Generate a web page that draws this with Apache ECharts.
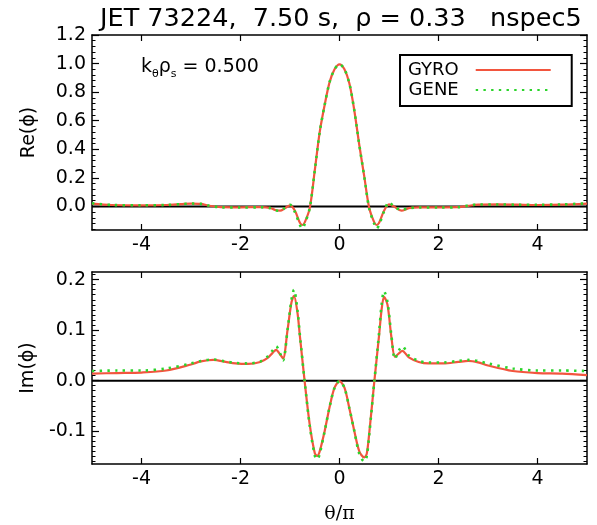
<!DOCTYPE html>
<html>
<head>
<meta charset="utf-8">
<script src="https://cdn.jsdelivr.net/npm/echarts@6/dist/echarts.min.js"></script>
<style>
html, body { margin: 0; padding: 0; background: #fff; }
#main { width: 597px; height: 525px; }
</style>
</head>
<body>
<div id="main"></div>
<script>
// values (theta/pi on x)
var reTheta = [-5, -4.6, -4.0, -3.5, -3.2, -3.0, -2.8, -2.65, -2.4, -2.0, -1.6, -1.4, -1.3, -1.2, -1.1, -1.0, -0.9, -0.8, -0.75, -0.7, -0.6, -0.5, -0.4, -0.3, -0.2, -0.1, 0, 0.1, 0.2, 0.3, 0.4, 0.5, 0.6, 0.7, 0.75, 0.8, 0.9, 1.0, 1.1, 1.25, 1.4, 1.6, 2.0, 2.4, 2.6, 2.8, 3.2, 3.6, 4.0, 4.5, 5];
var reGyro = [0.02, 0.01, 0.008, 0.01, 0.016, 0.02, 0.018, 0.006, -0.005, -0.006, -0.005, -0.01, -0.025, -0.03, -0.012, 0.008, -0.03, -0.115, -0.13, -0.11, -0.01, 0.25, 0.52, 0.71, 0.87, 0.96, 0.995, 0.96, 0.86, 0.67, 0.43, 0.21, -0.01, -0.11, -0.13, -0.115, -0.03, 0.015, 0.0, -0.03, -0.012, -0.006, -0.006, -0.005, 0.004, 0.012, 0.014, 0.012, 0.01, 0.012, 0.02];
var reGene = [0.022, 0.01, 0.008, 0.01, 0.016, 0.02, 0.018, 0.006, -0.006, -0.008, -0.006, -0.012, -0.028, -0.03, -0.01, 0.012, -0.04, -0.13, -0.155, -0.12, -0.01, 0.25, 0.52, 0.71, 0.87, 0.96, 0.995, 0.96, 0.86, 0.67, 0.43, 0.21, -0.015, -0.12, -0.155, -0.13, -0.035, 0.03, 0.0, -0.025, -0.012, -0.008, -0.008, -0.006, 0.006, 0.014, 0.014, 0.012, 0.012, 0.014, 0.022];

var imTheta = [-5, -4.5, -4.0, -3.5, -3.0, -2.8, -2.55, -2.3, -2.1, -1.85, -1.6, -1.45, -1.35, -1.28, -1.2, -1.14, -1.05, -0.97, -0.92, -0.85, -0.8, -0.7, -0.6, -0.5, -0.45, -0.4, -0.3, -0.2, -0.1, 0, 0.1, 0.2, 0.3, 0.4, 0.5, 0.55, 0.6, 0.7, 0.8, 0.85, 0.9, 0.97, 1.05, 1.12, 1.2, 1.27, 1.4, 1.6, 1.8, 2.1, 2.4, 2.6, 2.8, 3.0, 3.5, 4.0, 4.5, 5];
var imGyro = [0.014, 0.015, 0.016, 0.02, 0.032, 0.038, 0.041, 0.037, 0.034, 0.033, 0.037, 0.045, 0.055, 0.061, 0.052, 0.044, 0.1, 0.155, 0.168, 0.135, 0.088, -0.005, -0.088, -0.143, -0.149, -0.14, -0.1, -0.052, -0.014, -0.001, -0.014, -0.055, -0.1, -0.14, -0.152, -0.145, -0.105, -0.005, 0.09, 0.14, 0.166, 0.15, 0.085, 0.047, 0.054, 0.059, 0.046, 0.037, 0.034, 0.034, 0.037, 0.039, 0.036, 0.03, 0.019, 0.015, 0.014, 0.011];
var imGene = [0.019, 0.02, 0.02, 0.024, 0.034, 0.039, 0.042, 0.038, 0.035, 0.034, 0.038, 0.048, 0.06, 0.068, 0.054, 0.04, 0.1, 0.16, 0.18, 0.14, 0.09, -0.005, -0.09, -0.148, -0.156, -0.145, -0.1, -0.052, -0.014, -0.001, -0.014, -0.055, -0.1, -0.145, -0.16, -0.15, -0.108, -0.005, 0.095, 0.15, 0.177, 0.155, 0.088, 0.043, 0.06, 0.068, 0.05, 0.039, 0.036, 0.036, 0.039, 0.041, 0.039, 0.034, 0.024, 0.02, 0.02, 0.019];

var zeroX = [-5, 5];
var zeroY = [0, 0];

var xTicks = [-4, -2, 0, 2, 4];
var reTicks = [0, 0.2, 0.4, 0.6, 0.8, 1.0, 1.2];
var imTicks = [-0.1, 0, 0.1, 0.2];

var titleText = 'JET 73224,  7.50 s,  \u03c1 = 0.33   nspec5';
var font = '"DejaVu Sans", "Liberation Sans", Arial, sans-serif';
var serif = '"DejaVu Serif", "Liberation Serif", serif';

// minor tick positions
function minorList(from, to, step, majors) {
  var out = [];
  for (var v = from; v <= to + 1e-9; v += step) {
    var r = Math.round(v * 1000) / 1000;
    var isMajor = majors.some(function (m) { return Math.abs(m - r) < 1e-6; });
    if (!isMajor) out.push(r);
  }
  return out;
}
var reMinor = minorList(-0.16, 1.2, 0.04, reTicks);
var imMinor = minorList(-0.16, 0.21, 0.01, imTicks);

function pairs(xs, ys) {
  return xs.map(function (x, i) { return [x, ys[i]]; });
}

var axisLineStyle = { color: '#000', width: 1.5 };

function xAxisPair(gi, name) {
  var bottom = {
    type: 'value', gridIndex: gi, min: -5, max: 5, position: 'bottom',
    axisLine: { onZero: false, lineStyle: axisLineStyle },
    axisTick: { inside: true, length: 6, customValues: xTicks, lineStyle: { color: '#000', width: 1.2 } },
    axisLabel: { customValues: xTicks, margin: 6, fontSize: 19, color: '#000', fontFamily: font },
    splitLine: { show: false }
  };
  if (name) {
    bottom.name = name;
    bottom.nameLocation = 'middle';
    bottom.nameGap = 41;
    bottom.nameTextStyle = { fontSize: 19, color: '#000', fontFamily: serif };
  }
  return [bottom, {
    type: 'value', gridIndex: gi, min: -5, max: 5, position: 'top',
    axisLine: { onZero: false, lineStyle: axisLineStyle },
    axisTick: { inside: true, length: 6, customValues: xTicks, lineStyle: { color: '#000', width: 1.2 } },
    axisLabel: { show: false },
    splitLine: { show: false }
  }];
}

function yAxisSet(gi, min, max, majors, minors, name) {
  var base = { type: 'value', gridIndex: gi, min: min, max: max, splitLine: { show: false } };
  return [
    Object.assign({}, base, {
      position: 'left', name: name, nameLocation: 'middle', nameGap: 53, nameRotate: 90,
      nameTextStyle: { fontSize: 19, color: '#000', fontFamily: font },
      axisLine: { onZero: false, lineStyle: axisLineStyle },
      axisTick: { inside: true, length: 7, customValues: majors, lineStyle: { color: '#000', width: 1.2 } },
      axisLabel: {
        customValues: majors, margin: 6, fontSize: 19, color: '#000', fontFamily: font,
        formatter: function (v) { return v.toFixed(1); }
      }
    }),
    Object.assign({}, base, {
      position: 'right',
      axisLine: { onZero: false, lineStyle: axisLineStyle },
      axisTick: { inside: true, length: 7, customValues: majors, lineStyle: { color: '#000', width: 1.2 } },
      axisLabel: { show: false }
    }),
    Object.assign({}, base, {
      position: 'left',
      axisLine: { show: false, onZero: false },
      axisTick: { inside: true, length: 3.5, customValues: minors, lineStyle: { color: '#000', width: 1 } },
      axisLabel: { show: false }
    }),
    Object.assign({}, base, {
      position: 'right',
      axisLine: { show: false, onZero: false },
      axisTick: { inside: true, length: 3.5, customValues: minors, lineStyle: { color: '#000', width: 1 } },
      axisLabel: { show: false }
    })
  ];
}

function seriesFor(xi, yi, xs, gyro, gene) {
  return [
    {
      type: 'line', xAxisIndex: xi, yAxisIndex: yi, data: pairs(zeroX, zeroY),
      symbol: 'none', silent: true, lineStyle: { color: '#000', width: 2 }, z: 1
    },
    {
      name: 'GYRO', type: 'line', xAxisIndex: xi, yAxisIndex: yi, data: pairs(xs, gyro),
      smooth: 0.3, symbol: 'none', showSymbol: false,
      lineStyle: { color: '#f2553e', width: 2.2 }, itemStyle: { color: '#f2553e' }, z: 2
    },
    {
      name: 'GENE', type: 'line', xAxisIndex: xi, yAxisIndex: yi, data: pairs(xs, gene),
      smooth: 0.3, symbol: 'none', showSymbol: false,
      lineStyle: { color: '#2bd42b', width: 2.6, type: [2.4, 5.3] }, itemStyle: { color: '#2bd42b' }, z: 3
    }
  ];
}

var chart = echarts.init(document.getElementById('main'), null, { renderer: 'canvas' });
chart.setOption({
  animation: false,
  backgroundColor: '#fff',
  title: {
    text: titleText, left: 100, top: 6, padding: 0,
    textStyle: { fontSize: 25.5, fontWeight: 'normal', color: '#000', fontFamily: font }
  },
  legend: {
    data: ['GYRO', 'GENE'], orient: 'vertical', left: 400, top: 55, align: 'right',
    itemWidth: 75, itemHeight: 14, itemGap: 0, padding: [5, 20, 6, 8],
    borderColor: '#000', borderWidth: 2, selectedMode: false,
    itemStyle: { opacity: 0 },
    textStyle: { fontSize: 18, color: '#000', fontFamily: font, lineHeight: 20, padding: [0, 12, 0, 0] }
  },
  graphic: [{
    type: 'text', left: 141, top: 55,
    style: {
      text: 'k{s|\u03b8}\u03c1{s|s} = 0.500',
      fill: '#000', fontSize: 19, fontFamily: font, lineHeight: 25,
      rich: { s: { fontSize: 11, lineHeight: 11, verticalAlign: 'bottom', fontFamily: font, fill: '#000' } }
    }
  }],
  grid: [
    { left: 92, right: 10, top: 35, height: 195 },
    { left: 92, right: 10, top: 272, height: 193 }
  ],
  xAxis: xAxisPair(0).concat(xAxisPair(1, '\u03b8/\u03c0')),
  yAxis: yAxisSet(0, -0.165, 1.2, reTicks, reMinor, 'Re(\u03d5)').concat(
         yAxisSet(1, -0.165, 0.215, imTicks, imMinor, 'Im(\u03d5)')),
  series: seriesFor(0, 0, reTheta, reGyro, reGene).concat(seriesFor(2, 4, imTheta, imGyro, imGene))
});
</script>
</body>
</html>
